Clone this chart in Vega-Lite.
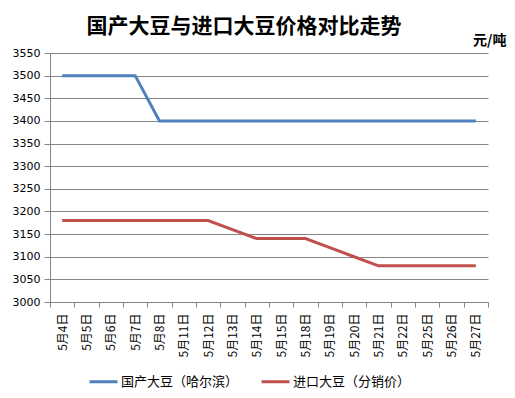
{
"$schema": "https://vega.github.io/schema/vega-lite/v6.json",
"width": 438, "height": 249,
"autosize": {"type": "none"},
"padding": {"left": 50, "top": 53, "right": 27, "bottom": 96},
"background": "white",
"title": {"text": "国产大豆与进口大豆价格对比走势", "font": "Noto Sans CJK SC", "fontSize": 21, "fontWeight": "bold", "color": "#000000", "anchor": "middle", "frame": "group", "dx": -25, "offset": -4},
"data": {"values": [
{"date": "5月4日", "series": "国产大豆（哈尔滨）", "price": 3500},
{"date": "5月5日", "series": "国产大豆（哈尔滨）", "price": 3500},
{"date": "5月6日", "series": "国产大豆（哈尔滨）", "price": 3500},
{"date": "5月7日", "series": "国产大豆（哈尔滨）", "price": 3500},
{"date": "5月8日", "series": "国产大豆（哈尔滨）", "price": 3400},
{"date": "5月11日", "series": "国产大豆（哈尔滨）", "price": 3400},
{"date": "5月12日", "series": "国产大豆（哈尔滨）", "price": 3400},
{"date": "5月13日", "series": "国产大豆（哈尔滨）", "price": 3400},
{"date": "5月14日", "series": "国产大豆（哈尔滨）", "price": 3400},
{"date": "5月15日", "series": "国产大豆（哈尔滨）", "price": 3400},
{"date": "5月18日", "series": "国产大豆（哈尔滨）", "price": 3400},
{"date": "5月19日", "series": "国产大豆（哈尔滨）", "price": 3400},
{"date": "5月20日", "series": "国产大豆（哈尔滨）", "price": 3400},
{"date": "5月21日", "series": "国产大豆（哈尔滨）", "price": 3400},
{"date": "5月22日", "series": "国产大豆（哈尔滨）", "price": 3400},
{"date": "5月25日", "series": "国产大豆（哈尔滨）", "price": 3400},
{"date": "5月26日", "series": "国产大豆（哈尔滨）", "price": 3400},
{"date": "5月27日", "series": "国产大豆（哈尔滨）", "price": 3400},
{"date": "5月4日", "series": "进口大豆（分销价）", "price": 3180},
{"date": "5月5日", "series": "进口大豆（分销价）", "price": 3180},
{"date": "5月6日", "series": "进口大豆（分销价）", "price": 3180},
{"date": "5月7日", "series": "进口大豆（分销价）", "price": 3180},
{"date": "5月8日", "series": "进口大豆（分销价）", "price": 3180},
{"date": "5月11日", "series": "进口大豆（分销价）", "price": 3180},
{"date": "5月12日", "series": "进口大豆（分销价）", "price": 3180},
{"date": "5月13日", "series": "进口大豆（分销价）", "price": 3160},
{"date": "5月14日", "series": "进口大豆（分销价）", "price": 3140},
{"date": "5月15日", "series": "进口大豆（分销价）", "price": 3140},
{"date": "5月18日", "series": "进口大豆（分销价）", "price": 3140},
{"date": "5月19日", "series": "进口大豆（分销价）", "price": 3120},
{"date": "5月20日", "series": "进口大豆（分销价）", "price": 3100},
{"date": "5月21日", "series": "进口大豆（分销价）", "price": 3080},
{"date": "5月22日", "series": "进口大豆（分销价）", "price": 3080},
{"date": "5月25日", "series": "进口大豆（分销价）", "price": 3080},
{"date": "5月26日", "series": "进口大豆（分销价）", "price": 3080},
{"date": "5月27日", "series": "进口大豆（分销价）", "price": 3080}
]},
"mark": {"type": "line", "strokeWidth": 3},
"encoding": {
"x": {"field": "date", "type": "ordinal", "sort": null,
 "scale": {"type": "band", "paddingInner": 0, "paddingOuter": 0},
 "axis": {"title": null, "labelAngle": 270, "labelFont": "Noto Sans CJK SC", "labelFontSize": 12, "labelColor": "#000000", "labelPadding": 6, "tickBand": "extent", "tickSize": 5, "tickColor": "#868686", "domainColor": "#868686", "grid": false}},
"y": {"field": "price", "type": "quantitative",
 "scale": {"domain": [3000, 3550], "nice": false, "zero": false},
 "axis": {"values": [3000,3050,3100,3150,3200,3250,3300,3350,3400,3450,3500,3550], "format": "d", "labelFont": "DejaVu Sans", "labelFontSize": 11, "labelColor": "#000000", "labelPadding": 4, "tickSize": 6, "tickColor": "#868686", "domainColor": "#868686", "gridColor": "#868686", "gridOpacity": 1,
  "title": "元/吨", "titleAngle": 0, "titleX": 456, "titleY": -6, "titleAlign": "right", "titleBaseline": "bottom", "titleFont": "Noto Sans CJK SC", "titleFontSize": 14, "titleFontWeight": "bold", "titleColor": "#000000"}},
"color": {"field": "series", "type": "nominal", "sort": ["国产大豆（哈尔滨）", "进口大豆（分销价）"],
 "scale": {"domain": ["国产大豆（哈尔滨）", "进口大豆（分销价）"], "range": ["#4F81BD", "#C0504D"]},
 "legend": {"title": null, "orient": "none", "legendX": 38, "legendY": 313, "direction": "horizontal", "symbolType": "stroke", "symbolSize": 784, "symbolStrokeWidth": 3, "labelFont": "Noto Sans CJK SC", "labelFontSize": 13, "labelColor": "#000000", "labelOffset": 2, "columnPadding": 16}}
},
"config": {"view": {"stroke": null}}
}
